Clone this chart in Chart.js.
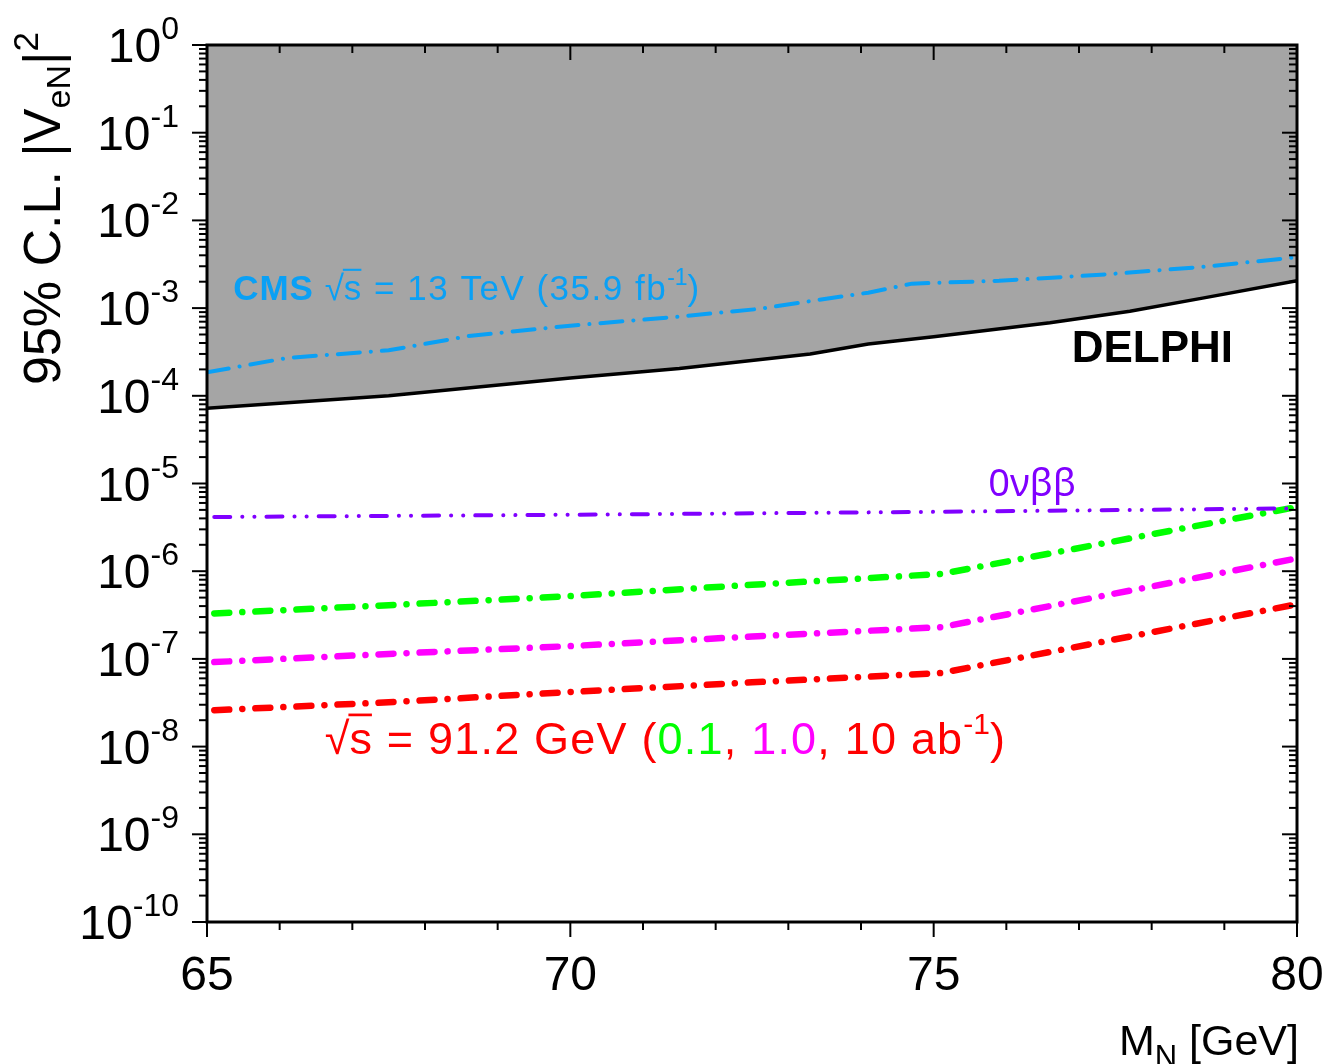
<!DOCTYPE html>
<html>
<head>
<meta charset="utf-8">
<script src="https://cdn.jsdelivr.net/npm/chart.js@4.4.1/dist/chart.umd.min.js"></script>
<style>
body { margin: 0; background: #fff; }
#wrap { width: 1327px; height: 1064px; }
</style>
</head>
<body>
<div id="wrap"><canvas id="limitChart" width="1327" height="1064"></canvas></div>
<script>
// heavy neutrino mass [GeV] and 95% CL limits on |V_eN|^2
const delphiMass = [65, 67.5, 70, 71.5, 73.3, 74.1, 75, 76.6, 77.7, 78.7, 80];
const delphiLimit = [7.2e-5, 1.0e-4, 1.6e-4, 2.05e-4, 3.0e-4, 3.9e-4, 4.7e-4, 6.8e-4, 9.2e-4, 1.3e-3, 2.05e-3];

const cmsMass = [65, 66.1, 67.5, 68.6, 70, 71.5, 72.6, 73.3, 74.1, 74.7, 75.9, 77.3, 78.7, 80];
const cmsLimit = [1.85e-4, 2.7e-4, 3.3e-4, 4.8e-4, 6.3e-4, 8.0e-4, 9.8e-4, 1.2e-3, 1.5e-3, 1.9e-3, 2.05e-3, 2.4e-3, 2.95e-3, 3.8e-3];

const bbMass = [65.1, 70, 75, 80];
const bbLimit = [4.15e-6, 4.4e-6, 4.75e-6, 5.2e-6];

const zMass = [65.1, 67.5, 70, 72.5, 75.1, 80];
const lumi01 = [3.3e-7, 4.1e-7, 5.2e-7, 7.0e-7, 9.3e-7, 5.4e-6];
const lumi1 = [9.2e-8, 1.14e-7, 1.4e-7, 1.8e-7, 2.3e-7, 1.4e-6];
const lumi10 = [2.6e-8, 3.2e-8, 4.2e-8, 5.4e-8, 6.9e-8, 4.2e-7];

// axis ticks
const massTicks = [65, 70, 75, 80];
const decadeExps = [0, -1, -2, -3, -4, -5, -6, -7, -8, -9, -10];

const FONT = '"Liberation Sans", Arial, sans-serif';

function pts(xs, ys) {
    return xs.map((x, i) => ({ x: x, y: ys[i] }));
}

function drawRuns(ctx, list, x, y, align) {
    let total = 0;
    for (let r of list) {
        ctx.font = (r.bold ? 'bold ' : '') + r.size + 'px ' + (r.family || FONT);
        ctx.letterSpacing = (r.ls || 0) + 'px';
        r.w = ctx.measureText(r.text).width;
        total += r.w;
    }
    let cx = x;
    if (align === 'right') cx = x - total;
    if (align === 'center') cx = x - total / 2;
    for (let r of list) {
        ctx.font = (r.bold ? 'bold ' : '') + r.size + 'px ' + (r.family || FONT);
        ctx.letterSpacing = (r.ls || 0) + 'px';
        ctx.fillStyle = r.color || '#000';
        ctx.fillText(r.text, cx, y + (r.dy || 0));
        if (r.over) {
            ctx.strokeStyle = r.color || '#000';
            ctx.lineWidth = r.size * 0.06;
            ctx.beginPath();
            ctx.moveTo(cx - 1, y - r.size * 0.86);
            ctx.lineTo(cx + r.w - (r.ls || 0), y - r.size * 0.86);
            ctx.stroke();
        }
        cx += r.w;
    }
    ctx.letterSpacing = '0px';
    return total;
}

const framePlugin = {
    id: 'framePlugin',
    afterDraw(chart) {
        const ctx = chart.ctx;
        const xs = chart.scales.x, ys = chart.scales.y;
        const { left, right, top, bottom } = chart.chartArea;
        ctx.save();
        ctx.textBaseline = 'alphabetic';
        ctx.textAlign = 'left';

        const seg = (x1, y1, x2, y2) => {
            ctx.beginPath();
            ctx.moveTo(x1, y1);
            ctx.lineTo(x2, y2);
            ctx.stroke();
        };

        // ticks
        ctx.strokeStyle = '#000';
        ctx.lineWidth = 2;
        for (let m = 65; m <= 80; m++) {
            const p = xs.getPixelForValue(m);
            const len = massTicks.includes(m) ? 15 : 8;
            seg(p, bottom, p, bottom + len);
            seg(p, top, p, top + len);
        }
        for (let e of decadeExps) {
            const p = ys.getPixelForValue(Math.pow(10, e));
            seg(left - 15, p, left, p);
            seg(right - 15, p, right, p);
            if (e > -10) {
                for (let k = 2; k <= 9; k++) {
                    const q = ys.getPixelForValue(k * Math.pow(10, e - 1));
                    seg(left - 8, q, left, q);
                    seg(right - 8, q, right, q);
                }
            }
        }

        // frame
        ctx.lineWidth = 3;
        ctx.strokeRect(left, top, right - left, bottom - top);

        // y tick labels
        for (let e of decadeExps) {
            const p = ys.getPixelForValue(Math.pow(10, e));
            drawRuns(ctx, [
                { text: '10', size: 48 },
                { text: String(e), size: 32, dy: -23 }
            ], 179, p + 17, 'right');
        }
        // x tick labels
        for (let m of massTicks) {
            drawRuns(ctx, [{ text: String(m), size: 48 }], xs.getPixelForValue(m), 990, 'center');
        }

        // x title
        drawRuns(ctx, [
            { text: 'M', size: 43 },
            { text: 'N', size: 31, dy: 12 },
            { text: ' [GeV]', size: 43 }
        ], 1299, 1055, 'right');

        // y title
        ctx.save();
        ctx.translate(60, 385);
        ctx.rotate(-Math.PI / 2);
        drawRuns(ctx, [
            { text: '95% C.L. |V', size: 52 },
            { text: 'eN', size: 34, dy: 10 },
            { text: '|', size: 52 },
            { text: '2', size: 35, dy: -22 }
        ], 0, 0, 'left');
        ctx.restore();

        // annotations
        const blue = '#0aa0f5';
        drawRuns(ctx, [
            { text: 'CMS ', size: 35, bold: true, color: blue, ls: 1 },
            { text: '\u221A', size: 35, color: blue },
            { text: 's', size: 35, color: blue, over: true, ls: 1.5 },
            { text: ' = 13 TeV (35.9 fb', size: 35, color: blue, ls: 1.5 },
            { text: '-1', size: 23, color: blue, dy: -15 },
            { text: ')', size: 35, color: blue }
        ], xs.getPixelForValue(65.36), ys.getPixelForValue(1.24e-3), 'left');

        drawRuns(ctx, [{ text: 'DELPHI', size: 44, bold: true }],
            xs.getPixelForValue(79.12), ys.getPixelForValue(2.43e-4), 'right');

        drawRuns(ctx, [{ text: '0\u03BD\u03B2\u03B2', size: 38, color: '#8000ff', family: '"Noto Sans", sans-serif' }],
            xs.getPixelForValue(75.75), ys.getPixelForValue(7.2e-6), 'left');

        drawRuns(ctx, [
            { text: '\u221A', size: 45, color: '#ff0000' },
            { text: 's', size: 45, color: '#ff0000', over: true, ls: 1.2 },
            { text: ' = 91.2 GeV (', size: 45, color: '#ff0000', ls: 1.2 },
            { text: '0.1', size: 45, color: '#00ff00', ls: 1.2 },
            { text: ', ', size: 45, color: '#ff0000', ls: 1.2 },
            { text: '1.0', size: 45, color: '#ff00ff', ls: 1.2 },
            { text: ', 10 ab', size: 45, color: '#ff0000', ls: 1.2 },
            { text: '-1', size: 30, color: '#ff0000', dy: -20 },
            { text: ')', size: 45, color: '#ff0000' }
        ], xs.getPixelForValue(66.62), ys.getPixelForValue(1.0e-8) + 7, 'left');

        ctx.restore();
    }
};

const ctx = document.getElementById('limitChart').getContext('2d');
const limitChart = new Chart(ctx, {
    type: 'line',
    data: {
        datasets: [
            {
                label: 'CMS',
                data: pts(cmsMass, cmsLimit),
                borderColor: '#0aa0f5',
                borderWidth: 4,
                borderDash: [22, 11, 0.1, 11],
                borderCapStyle: 'round',
                fill: false
            },
            {
                label: '0vbb',
                data: pts(bbMass, bbLimit),
                borderColor: '#8000ff',
                borderWidth: 4,
                borderDash: [16, 12, 0.1, 12, 0.1, 12],
                borderCapStyle: 'round',
                fill: false
            },
            {
                label: '0.1 ab-1',
                data: pts(zMass, lumi01),
                borderColor: '#00ff00',
                borderWidth: 6.5,
                borderDash: [15, 13, 0.1, 13],
                borderCapStyle: 'round',
                fill: false
            },
            {
                label: '1.0 ab-1',
                data: pts(zMass, lumi1),
                borderColor: '#ff00ff',
                borderWidth: 6.5,
                borderDash: [15, 13, 0.1, 13],
                borderCapStyle: 'round',
                fill: false
            },
            {
                label: '10 ab-1',
                data: pts(zMass, lumi10),
                borderColor: '#ff0000',
                borderWidth: 6.5,
                borderDash: [15, 13, 0.1, 13],
                borderCapStyle: 'round',
                fill: false
            },
            {
                label: 'DELPHI',
                data: pts(delphiMass, delphiLimit),
                borderColor: '#000',
                borderWidth: 3.5,
                backgroundColor: '#a5a5a5',
                fill: 'end'
            }
        ]
    },
    options: {
        responsive: false,
        animation: false,
        layout: { padding: { left: 207, right: 30, top: 45, bottom: 142 } },
        elements: { point: { radius: 0 }, line: { tension: 0 } },
        plugins: {
            legend: { display: false },
            tooltip: { enabled: false },
            filler: { drawTime: 'beforeDatasetsDraw' }
        },
        scales: {
            x: { type: 'linear', min: 65, max: 80, display: false },
            y: { type: 'logarithmic', min: 1e-10, max: 1, display: false }
        }
    },
    plugins: [framePlugin]
});
</script>
</body>
</html>
